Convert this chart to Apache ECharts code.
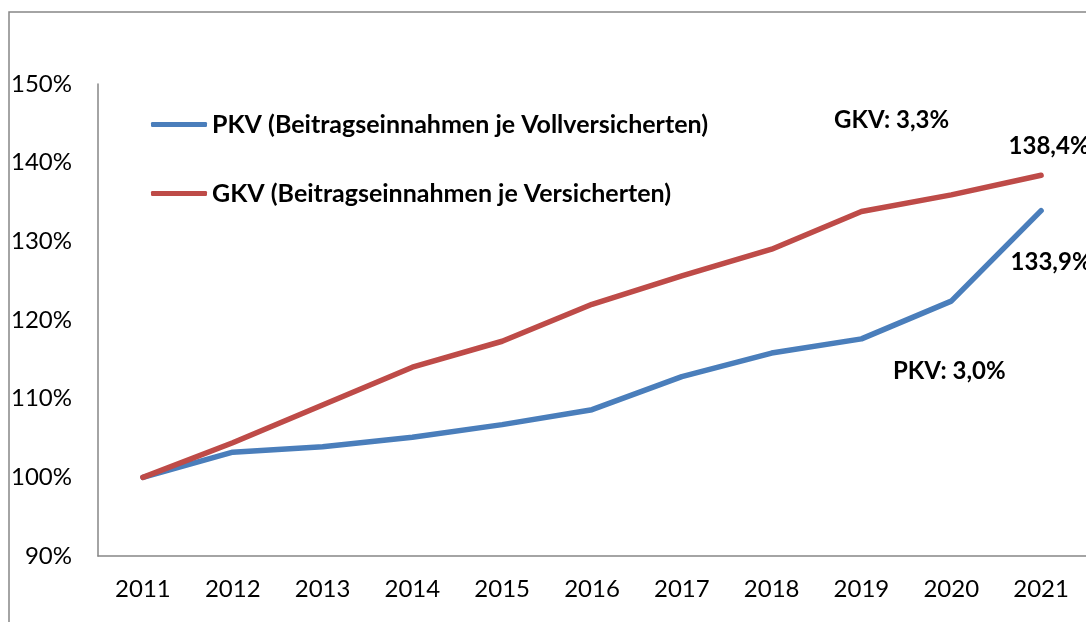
<!DOCTYPE html>
<html>
<head>
<meta charset="utf-8">
<script src="https://cdn.jsdelivr.net/npm/echarts@6/dist/echarts.min.js"></script>
<style>
  html, body { margin: 0; padding: 0; background: #fff; }
  #chart { width: 1086px; height: 622px; }
</style>
</head>
<body>
<div id="chart"></div>
<script>
// Beitragseinnahmen, Index 2011 = 100 %
const years = ["2011", "2012", "2013", "2014", "2015", "2016", "2017", "2018", "2019", "2020", "2021"]
const pkv = [100, 103.2, 103.9, 105.1, 106.7, 108.6, 112.8, 115.8, 117.6, 122.4, 133.9]
const gkv = [100, 104.4, 109.2, 114.0, 117.3, 122.0, 125.6, 129.0, 133.8, 135.9, 138.4]
const pkvName = "PKV (Beitragseinnahmen je Vollversicherten)"
const gkvName = "GKV (Beitragseinnahmen je Versicherten)"
const pkvRate = "PKV: 3,0%"
const gkvRate = "GKV: 3,3%"

const FONT = "Lato"
const BLUE = "#4a7ebb"
const RED = "#be4b48"
const AXIS = "#868686"

const pct = (v) => v.toFixed(1).replace(".", ",") + "%"

// only the last point carries a value label
const withEndLabel = (arr, pos, offset) =>
  arr.map((v, i) =>
    i === arr.length - 1
      ? { value: v, label: { show: true, position: pos, offset, formatter: pct(v) } }
      : v
  )

const chart = echarts.init(document.getElementById("chart"), null, { renderer: "canvas" })

const endLabel = { show: false, fontFamily: FONT, fontSize: 24, fontWeight: "bold", color: "#000" }

chart.setOption({
  animation: false,
  textStyle: { fontFamily: FONT },
  grid: { left: 98, top: 84, width: 999, height: 472, containLabel: false },
  legend: {
    orient: "vertical",
    left: 146,
    top: 107,
    itemGap: 44,
    itemWidth: 56,
    itemHeight: 5,
    icon: "roundRect",
    textStyle: { fontFamily: FONT, fontSize: 25, fontWeight: "bold", color: "#000" },
    data: [pkvName, gkvName],
  },
  xAxis: {
    type: "category",
    data: years,
    boundaryGap: true,
    axisLine: { lineStyle: { color: AXIS, width: 1.5 } },
    axisTick: { show: false },
    axisLabel: { color: "#000", fontSize: 24, fontFamily: FONT, margin: 21 },
  },
  yAxis: {
    type: "value",
    min: 90,
    max: 150,
    interval: 10,
    splitLine: { show: false },
    axisLine: { show: true, lineStyle: { color: AXIS, width: 1.5 } },
    axisTick: { show: false },
    axisLabel: { color: "#000", fontSize: 24, fontFamily: FONT, margin: 26, formatter: (v) => v + "%" },
  },
  series: [
    {
      name: pkvName,
      type: "line",
      data: withEndLabel(pkv, "bottom", [10, 35]),
      symbol: "circle",
      symbolSize: 0,
      showSymbol: true,
      lineStyle: { color: BLUE, width: 5.5, cap: "round", join: "round" },
      itemStyle: { color: BLUE },
      label: endLabel,
    },
    {
      name: gkvName,
      type: "line",
      data: withEndLabel(gkv, "top", [8, -12]),
      symbol: "circle",
      symbolSize: 0,
      showSymbol: true,
      lineStyle: { color: RED, width: 5.5, cap: "round", join: "round" },
      itemStyle: { color: RED },
      label: endLabel,
    },
  ],
  graphic: [
    {
      type: "rect",
      shape: { x: 9, y: 12, width: 1200, height: 800 },
      style: { fill: "none", stroke: AXIS, lineWidth: 1.5 },
      silent: true,
    },
    {
      type: "text",
      left: 834,
      top: 108,
      style: { text: gkvRate, font: "bold 24px " + FONT, fill: "#000" },
    },
    {
      type: "text",
      left: 893,
      top: 359,
      style: { text: pkvRate, font: "bold 24px " + FONT, fill: "#000" },
    },
  ],
})
</script>
</body>
</html>
